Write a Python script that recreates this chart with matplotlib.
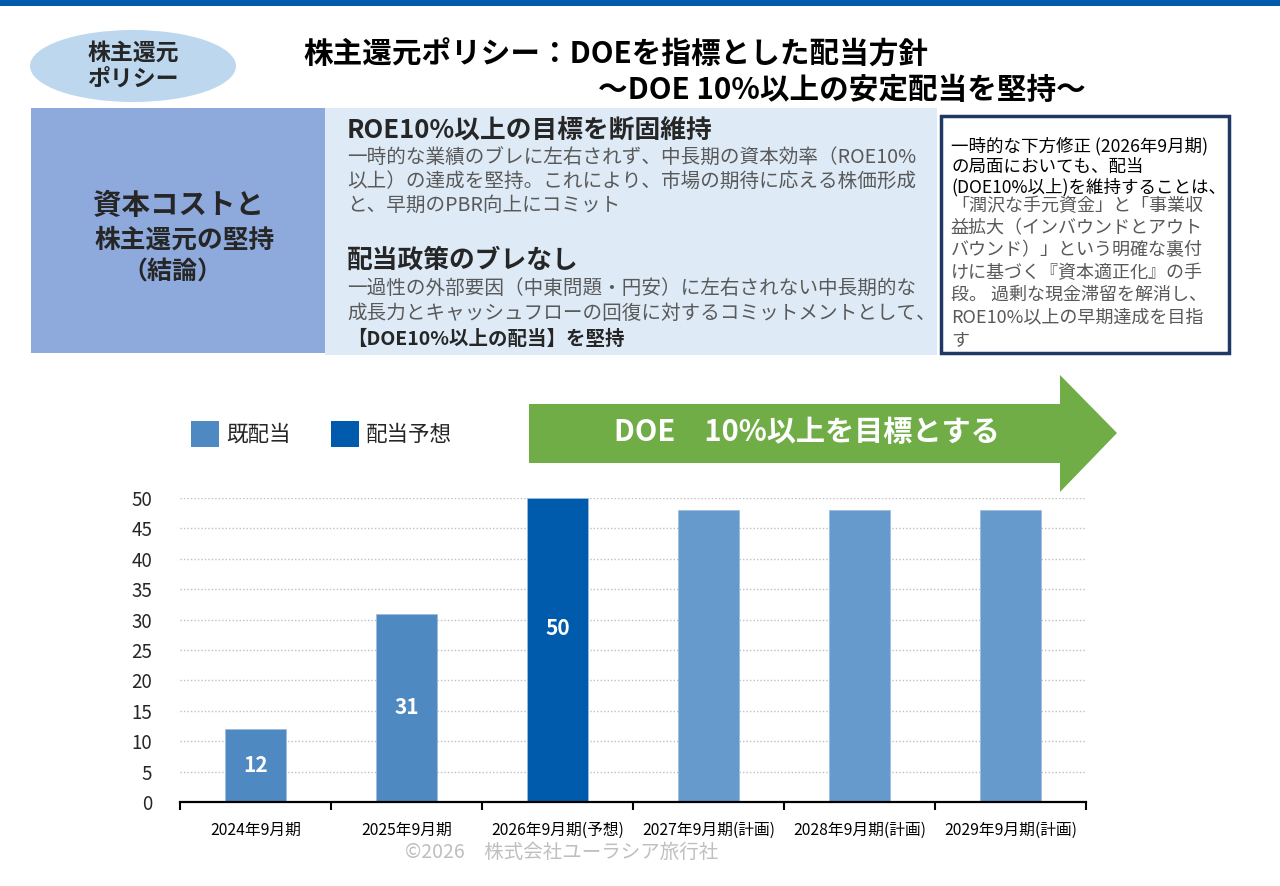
import matplotlib
matplotlib.use("Agg")
import matplotlib.pyplot as plt
from matplotlib.patches import Ellipse, Rectangle, Polygon, Patch
import numpy as np

plt.rcParams['font.family'] = ['Noto Sans CJK JP', 'DejaVu Sans']

# ---- data ----
categories = ["2024年9月期", "2025年9月期", "2026年9月期(予想)",
              "2027年9月期(計画)", "2028年9月期(計画)", "2029年9月期(計画)"]
dividends = [12, 31, 50, 48, 48, 48]
kinds = ["既配当", "既配当", "配当予想", "計画", "計画", "計画"]
y_ticks = [0, 5, 10, 15, 20, 25, 30, 35, 40, 45, 50]

title1 = "株主還元ポリシー：DOEを指標とした配当方針"
title2 = "～DOE 10%以上の安定配当を堅持～"
badge = "株主還元\nポリシー"
left_lines = ["資本コストと", "株主還元の堅持", "（結論）"]
head1 = "ROE10%以上の目標を断固維持"
body1 = ["一時的な業績のブレに左右されず、中長期の資本効率（ROE10%",
         "以上）の達成を堅持。これにより、市場の期待に応える株価形成",
         "と、早期のPBR向上にコミット"]
head2 = "配当政策のブレなし"
body2 = ["一過性の外部要因（中東問題・円安）に左右されない中長期的な",
         "成長力とキャッシュフローの回復に対するコミットメントとして、"]
body2_bold = "【DOE10%以上の配当】を堅持"
note_black = ["一時的な下方修正 (2026年9月期)",
              "の局面においても、配当",
              "(DOE10%以上)を維持することは、"]
note_grey = ["「潤沢な手元資金」と「事業収",
             "益拡大（インバウンドとアウト",
             "バウンド）」という明確な裏付",
             "けに基づく『資本適正化』の手",
             "段。 過剰な現金滞留を解消し、",
             "ROE10%以上の早期達成を目指",
             "す"]
arrow_text = "DOE　10%以上を目標とする"
copyright_text = "©2026　株式会社ユーラシア旅行社"

colors = {"既配当": "#4F89C2", "配当予想": "#005BAC", "計画": "#6699CC"}

W, H = 1280, 886
fig = plt.figure(figsize=(W / 100, H / 100), dpi=100)
fig.patch.set_facecolor("white")

# overlay in pixel coordinates
ov = fig.add_axes([0, 0, 1, 1], zorder=0)
ov.set_xlim(0, W)
ov.set_ylim(H, 0)
ov.axis("off")

dark = "#262626"
grey = "#595959"

# top band
ov.add_patch(Rectangle((0, 0), W, 6, color="#005BAC", lw=0))

# badge ellipse
ov.add_patch(Ellipse((133, 66), 206, 72, facecolor="#BDD7EE", edgecolor="none"))
ov.text(133, 66, badge, ha="center", va="center", fontsize=16.5, fontweight="bold",
        color=dark, linespacing=1.2)

# title
ov.text(303, 55, title1, ha="left", va="center", fontsize=21.3, fontweight="bold", color="black")
ov.text(1086, 90, title2, ha="right", va="center", fontsize=21.3, fontweight="bold", color="black")

# left box
ov.add_patch(Rectangle((31, 108), 294, 245, facecolor="#8EA9DB", edgecolor="none"))
ov.text(179, 206, left_lines[0], ha="center", va="center", fontsize=20.5, fontweight="bold", color=dark)
ov.text(185, 240, left_lines[1], ha="center", va="center", fontsize=18.5, fontweight="bold", color=dark)
ov.text(172, 272, left_lines[2], ha="center", va="center", fontsize=18, fontweight="bold", color=dark)

# middle box
ov.add_patch(Rectangle((325, 108), 612, 247, facecolor="#DEEBF7", edgecolor="none"))
ov.text(347, 130, head1, ha="left", va="center", fontsize=18.5, fontweight="bold", color=dark)
for i, line in enumerate(body1):
    ov.text(347, 158 + i * 23.5, line, ha="left", va="center", fontsize=14.1, color=grey)
ov.text(347, 260, head2, ha="left", va="center", fontsize=18.5, fontweight="bold", color=dark)
for i, line in enumerate(body2):
    ov.text(347, 288 + i * 25.5, line, ha="left", va="center", fontsize=14.1, color=grey)
ov.text(347, 339, body2_bold, ha="left", va="center", fontsize=14, fontweight="bold", color=dark)

# right note box
ov.add_patch(Rectangle((941, 116), 288, 237, facecolor="white", edgecolor="#1F3864", lw=2.5))
for i, line in enumerate(note_black):
    ov.text(951, 146 + i * 20.5, line, ha="left", va="center", fontsize=12.6,
            fontweight="normal", color="black")
for i, line in enumerate(note_grey):
    ov.text(951, 206 + i * 22.3, line, ha="left", va="center", fontsize=13, color=grey)

# green arrow
arrow_pts = [(529, 404), (1060, 404), (1060, 375), (1117, 433),
             (1060, 492), (1060, 463), (529, 463)]
ov.add_patch(Polygon(arrow_pts, closed=True, facecolor="#70AD47", edgecolor="none"))
ov.text(807, 432, arrow_text, ha="center", va="center", fontsize=21,
        fontweight="bold", color="white")

# copyright
ov.text(562, 852, copyright_text, ha="center", va="center", fontsize=14, color="#BFBFBF")

# ---- chart ----
ax = fig.add_axes([180 / W, (H - 802) / H, 906 / W, 304 / H], zorder=2)
ax.patch.set_alpha(0)
x = np.arange(len(categories))
bar_colors = [colors[k] for k in kinds]
bars = ax.bar(x, dividends, width=0.4, color=bar_colors, zorder=3,
              edgecolor="#9DBDE0", linewidth=0.6)

for i, (b, v, k) in enumerate(zip(bars, dividends, kinds)):
    if k == "計画":
        continue
    ypos = v / 2 if k == "既配当" else v * 0.57
    ax.text(b.get_x() + b.get_width() / 2, ypos, str(v), ha="center", va="center",
            color="white", fontsize=15, fontweight="bold", zorder=4)

ax.set_xlim(-0.5, len(categories) - 0.5)
ax.set_ylim(0, 50)
ax.set_yticks(y_ticks)
ax.set_yticklabels([str(t) for t in y_ticks], fontsize=13.5, color=dark)
ax.tick_params(axis="y", length=0, pad=20)
ax.set_xticks(x)
ax.set_xticklabels(categories, fontsize=11.3, color="black")
ax.tick_params(axis="x", which="major", length=0, pad=14)
ax.set_xticks(np.arange(len(categories) + 1) - 0.5, minor=True)
ax.tick_params(axis="x", which="minor", length=6, width=1.5, color="black", direction="out")
for s in ["top", "right", "left"]:
    ax.spines[s].set_visible(False)
ax.spines["bottom"].set_linewidth(1.6)
ax.spines["bottom"].set_zorder(5)
ax.yaxis.grid(True, linestyle=(0, (1, 1.5)), color="#BFBFBF", linewidth=1, zorder=0)
ax.set_axisbelow(True)

# legend
handles = [Patch(facecolor=colors["既配当"], edgecolor="none", label="既配当"),
           Patch(facecolor=colors["配当予想"], edgecolor="none", label="配当予想")]
leg = ax.legend(handles=handles, loc="center left",
                bbox_to_anchor=(172 / W, 1 - 434 / H), bbox_transform=fig.transFigure,
                ncol=2, frameon=False, fontsize=15.5, handlelength=1.3, handleheight=1.5,
                handletextpad=0.3, columnspacing=1.9)
for t in leg.get_texts():
    t.set_color(dark)

fig.savefig("out.png", dpi=100)
